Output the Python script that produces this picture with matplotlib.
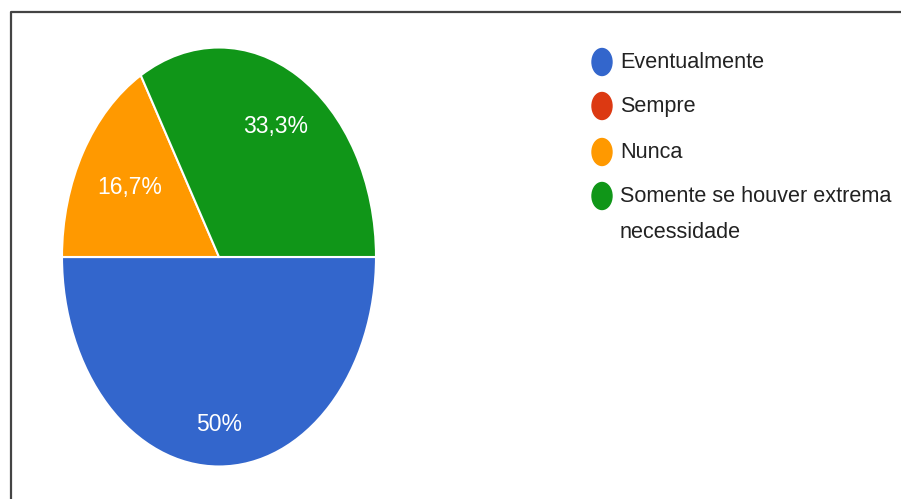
import numpy as np
import matplotlib
matplotlib.use("Agg")
import matplotlib.pyplot as plt
from matplotlib.patches import Ellipse

plt.rcParams['font.family'] = ['Liberation Sans', 'DejaVu Sans']

categories = ["Eventualmente", "Sempre", "Nunca", "Somente se houver extrema\nnecessidade"]
percentages = [50.0, 0.0, 16.7, 33.3]
colors = ["#3366cc", "#dc3912", "#ff9900", "#109618"]
label_radius = [0.80, 0.0, 0.66, 0.72]

W, H = 901, 499
fig = plt.figure(figsize=(W / 100, H / 100), dpi=100)

# Pie axes (stretched vertically -> ellipse)
cx, cy, rx, ry = 219, 257, 157, 209.5
ax = fig.add_axes([(cx - rx) / W, (H - cy - ry) / H, 2 * rx / W, 2 * ry / H])
wedges, _ = ax.pie(percentages, colors=colors, startangle=0, counterclock=False,
                   radius=1, center=(0, 0),
                   wedgeprops=dict(edgecolor="white", linewidth=1.5))
ax.set_xlim(-1, 1)
ax.set_ylim(-1, 1)
ax.set_aspect('auto')
ax.axis('off')

def fmt(p):
    s = f"{p:.1f}".replace('.', ',')
    if s.endswith(",0"):
        s = s[:-2]
    return s + "%"

for w, p, r in zip(wedges, percentages, label_radius):
    if p <= 0:
        continue
    th = np.deg2rad((w.theta1 + w.theta2) / 2)
    ax.text(r * np.cos(th), r * np.sin(th), fmt(p), color="white",
            ha="center", va="center", fontsize=16.5)

# Overlay axes in pixel coordinates for frame
ov = fig.add_axes([0, 0, 1, 1], zorder=-1)
ov.set_xlim(0, W)
ov.set_ylim(H, 0)
ov.axis('off')
ov.plot([11, 11, W + 5], [H + 5, 12, 12], color="#444444", linewidth=1.6,
        solid_capstyle='butt')

# Legend drawn in pixel coordinates
leg = fig.add_axes([0, 0, 1, 1])
leg.set_xlim(0, W)
leg.set_ylim(H, 0)
leg.axis('off')
row_y = [62, 106, 152, 196]
for lab, col, y in zip(categories, colors, row_y):
    leg.add_patch(Ellipse((602, y), 20, 27, color=col))
    for k, line in enumerate(lab.split("\n")):
        leg.text(620, y + k * 37, line, ha="left", va="center",
                 fontsize=15.6, color="#222222")

fig.savefig("out.png", dpi=100)
